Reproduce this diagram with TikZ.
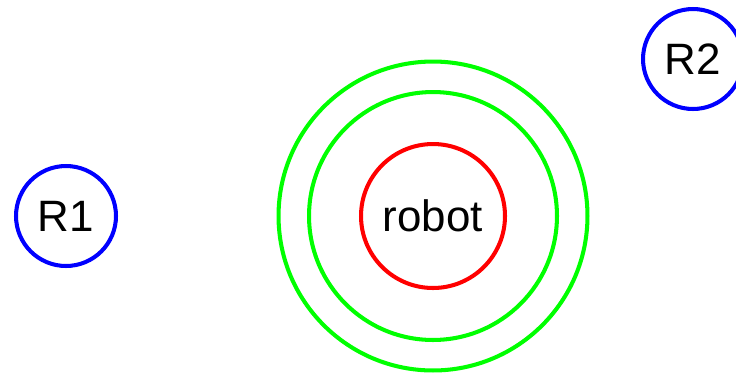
\documentclass[tikz,border=0pt]{standalone}
\usepackage{fontspec}
\setmainfont{Liberation Sans}
\begin{document}
\begin{tikzpicture}[
    x=0.02cm, y=-0.02cm,
    roomnode/.style={draw=blue, circle, line width=2.3pt, minimum size=2cm, inner sep=0pt},
    robotnode/.style={draw=red, circle, line width=2.3pt, minimum size=2.88cm, inner sep=0pt},
    ringnode/.style={draw=green, circle, line width=2.3pt, inner sep=0pt},
    lbl/.style={font=\fontsize{25}{30}\selectfont},
]

% ── Canvas ──────────────────────────────────────────────────
\useasboundingbox (0, 0) rectangle (736, 373);

% ── Robot and its range rings ───────────────────────────────
\node[robotnode, lbl] (robot) at (433, 216) {robot};
\node[ringnode, minimum size=4.96cm] (ringin) at (robot.center) {};
\node[ringnode, minimum size=6.18cm] (ringout) at (robot.center) {};

% ── Rooms ───────────────────────────────────────────────────
\node[roomnode, lbl] (r1) at (66, 216) {R1};
\node[roomnode, lbl] (r2) at (693, 59) {R2};

\end{tikzpicture}
\end{document}
